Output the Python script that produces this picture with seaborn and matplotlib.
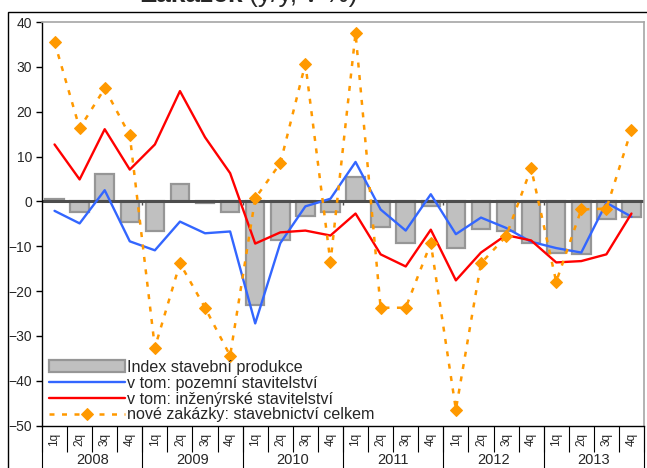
import matplotlib.pyplot as plt
import numpy as np
import pandas as pd
import seaborn as sns
from matplotlib.patches import Rectangle

# Data (y/y change in %), quarters 2008 1q .. 2013 4q
years = ["2008", "2009", "2010", "2011", "2012", "2013"]
quarters = ["1q", "2q", "3q", "4q"]

production = [0.5, -2.4, 6.2, -4.5, -6.7, 3.8, -0.3, -2.4, -23.0, -8.7, -3.3, -2.4,
              5.4, -5.6, -9.3, -1.1, -10.3, -6.2, -6.5, -9.2, -11.4, -11.8, -4.0, -3.4]
building = [-2.1, -4.9, 2.5, -8.9, -10.9, -4.5, -7.1, -6.7, -27.2, -9.3, -1.1, 0.6,
            8.8, -1.8, -6.5, 1.6, -7.3, -3.6, -5.9, -9.0, -10.4, -11.4, -0.3, -3.4]
engineering = [12.7, 4.9, 16.1, 7.1, 12.7, 24.6, 14.3, 6.3, -9.4, -6.9, -6.5, -7.6,
               -2.7, -11.8, -14.5, -6.3, -17.6, -11.4, -7.5, -8.7, -13.6, -13.3, -11.8, -2.7]
new_orders = [35.5, 16.3, 25.2, 14.7, -32.6, -13.8, -23.7, -34.4, 0.7, 8.5, 30.7, -13.6,
              37.5, -23.7, -23.7, -9.3, -46.4, -13.8, -7.8, 7.4, -17.9, -1.8, -1.6, 16.0]

labels = ["Index stavební produkce", "v tom: pozemní stavitelství",
          "v tom: inženýrské stavitelství", "nové zakázky: stavebnictví celkem"]

n = len(production)
df = pd.DataFrame({"pos": np.arange(n), "production": production, "building": building,
                   "engineering": engineering, "new_orders": new_orders})

sns.set_style("white")
plt.rcParams['font.family'] = ['Liberation Sans', 'DejaVu Sans']

fig = plt.figure(figsize=(6.47, 4.68), dpi=100)
ax = fig.add_axes([42 / 647, 1 - 425.7 / 468, (644 - 42) / 647, (425.7 - 22) / 468])

# Draw bars and lines
sns.barplot(data=df, x="pos", y="production", color="#C0C0C0", saturation=1,
            edgecolor="#969696", linewidth=1.6, width=0.74, label=labels[0], ax=ax, zorder=2)
ax.axhline(0, color="#4D4D4D", lw=2.2, zorder=2.5)
ax.vlines(np.arange(3.5, n - 1, 4), 0, -0.8, color="#4D4D4D", lw=1, zorder=2.5)
sns.lineplot(data=df, x="pos", y="building", color="#3366FF", lw=1.7, label=labels[1],
             ax=ax, zorder=3)
sns.lineplot(data=df, x="pos", y="engineering", color="#FF0000", lw=1.7, label=labels[2],
             ax=ax, zorder=3)
sns.lineplot(data=df, x="pos", y="new_orders", color="#FF9900", lw=1.8, linestyle=(0, (2, 3)),
             marker="D", markersize=6.5, markeredgecolor="#FF9900", markerfacecolor="#FF9900",
             label=labels[3], ax=ax, zorder=4)

ax.set_xlim(-0.5, n - 0.5)
ax.set_ylim(-50, 40)
ax.set_yticks(range(-50, 41, 10))
ax.set_xticks([])
ax.set_xlabel("")
ax.set_ylabel("")
ax.tick_params(axis="y", left=True, length=4, width=1, color="black", labelsize=10, pad=3)
for side in ["top", "right"]:
    ax.spines[side].set_color("#A6A6A6")
    ax.spines[side].set_linewidth(1.2)
for side in ["left", "bottom"]:
    ax.spines[side].set_color("black")
    ax.spines[side].set_linewidth(1)

# Legend in fixed order
handles, labs = ax.get_legend_handles_labels()
hmap = dict(zip(labs, handles))
ax.legend([hmap[l] for l in labels], labels, loc="lower left", bbox_to_anchor=(0.012, 0.008),
          frameon=False, fontsize=11.6, handlelength=4.7, handletextpad=0.12,
          labelspacing=0.06, borderpad=0, borderaxespad=0)

# Two-level category axis
trans = ax.get_xaxis_transform()
ax.vlines(np.arange(-0.5, n, 1), -0.065, 0, transform=trans, clip_on=False, color="black", lw=0.8)
ax.vlines(np.arange(-0.5, n + 1, 4), -0.2, 0, transform=trans, clip_on=False, color="black", lw=0.8)
for i in range(n):
    ax.text(i, -0.034, quarters[i % 4], transform=trans, rotation=90, ha="center", va="center",
            fontsize=8.5)
for j, y in enumerate(years):
    ax.text(4 * j + 1.5, -0.086, y, transform=trans, ha="center", va="center", fontsize=10.5)

# Outer chart frame and cropped title
fig.patches.append(Rectangle((8 / 647, -0.5), 2, 1.5 - 12 / 468, transform=fig.transFigure,
                             fill=False, edgecolor="black", lw=1))
fig.text(140 / 647, 1 - 2 / 468, "Zakázek", fontsize=19, fontweight="bold", va="baseline")
fig.text(249 / 647, 1 - 2 / 468, "(y/y, v %)", fontsize=19, va="baseline")

fig.savefig("out.png", dpi=100)
